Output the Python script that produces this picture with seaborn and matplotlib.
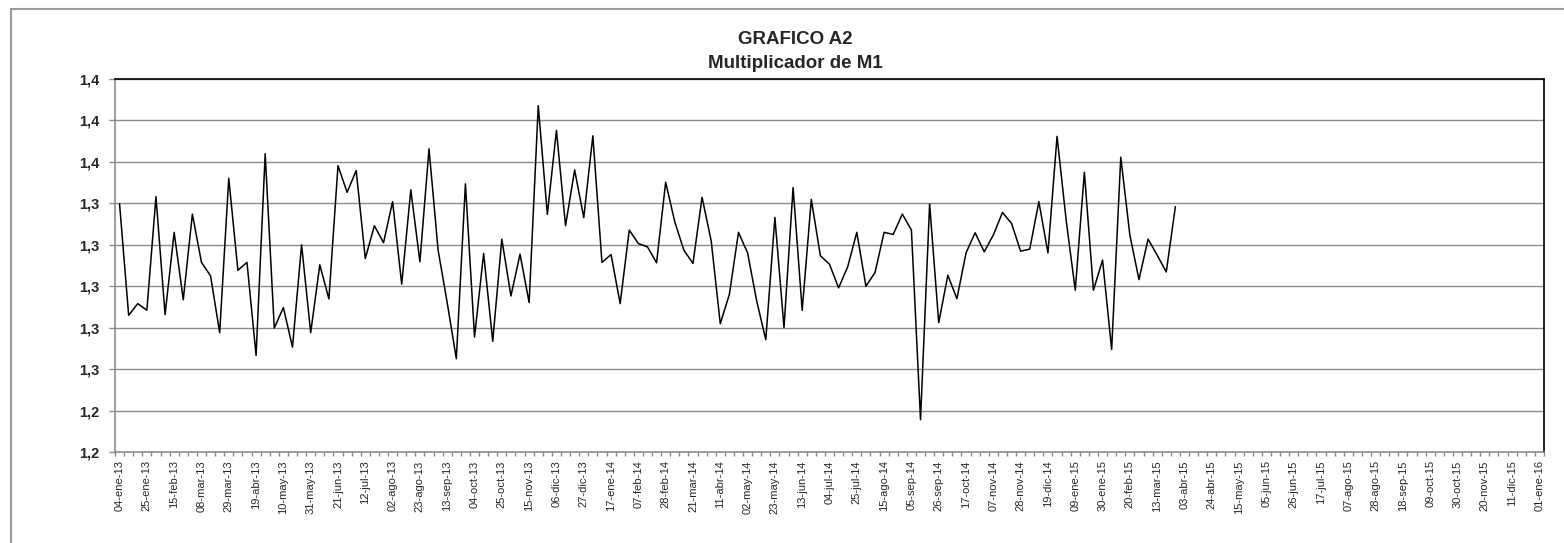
import numpy as np
import pandas as pd
import seaborn as sns
import matplotlib.pyplot as plt
from matplotlib.lines import Line2D

# Multiplicador de M1, datos semanales (viernes) desde 04-ene-13
valores = [
    1.3398, 1.2860, 1.2916, 1.2884, 1.3432, 1.2863, 1.3260, 1.2935, 1.3348, 1.3115,
    1.3050, 1.2776, 1.3521, 1.3077, 1.3115, 1.2666, 1.3639, 1.2798, 1.2897, 1.2706,
    1.3200, 1.2776, 1.3103, 1.2939, 1.3582, 1.3453, 1.3558, 1.3134, 1.3292, 1.3210,
    1.3408, 1.3010, 1.3465, 1.3118, 1.3663, 1.3174, 1.2920, 1.2650, 1.3494, 1.2755,
    1.3158, 1.2734, 1.3227, 1.2953, 1.3155, 1.2921, 1.3871, 1.3347, 1.3752, 1.3292,
    1.3561, 1.3331, 1.3726, 1.3115, 1.3153, 1.2916, 1.3271, 1.3206, 1.3190, 1.3113,
    1.3502, 1.3311, 1.3174, 1.3110, 1.3429, 1.3219, 1.2819, 1.2961, 1.3260, 1.3161,
    1.2929, 1.2742, 1.3332, 1.2800, 1.3476, 1.2884, 1.3419, 1.3147, 1.3106, 1.2992,
    1.3094, 1.3260, 1.3000, 1.3066, 1.3260, 1.3250, 1.3348, 1.3271, 1.2356, 1.3397,
    1.2824, 1.3053, 1.2940, 1.3161, 1.3258, 1.3166, 1.3247, 1.3356, 1.3303, 1.3169,
    1.3179, 1.3408, 1.3161, 1.3723, 1.3319, 1.2981, 1.3550, 1.2981, 1.3126, 1.2695,
    1.3623, 1.3247, 1.3032, 1.3227, 1.3150, 1.3069, 1.3384,
]

# eje de categorias: semanas hasta 01-ene-16
fechas = pd.date_range('2013-01-04', '2016-01-01', freq='7D')
meses = ['ene', 'feb', 'mar', 'abr', 'may', 'jun', 'jul', 'ago', 'sep', 'oct', 'nov', 'dic']
etiquetas_x = [f"{d.day:02d}-{meses[d.month - 1]}-{d.strftime('%y')}" for d in fechas]

y_ticks = [1.22, 1.24, 1.26, 1.28, 1.30, 1.32, 1.34, 1.36, 1.38, 1.40]
y_labels = ['1,2', '1,2', '1,3', '1,3', '1,3', '1,3', '1,3', '1,4', '1,4', '1,4']

df = pd.DataFrame({'pos': np.arange(len(valores)), 'valor': valores})

sns.set_style('white')
plt.rcParams['font.family'] = ['Liberation Sans', 'DejaVu Sans']

fig = plt.figure(figsize=(15.64, 5.43), dpi=100)
ax = fig.add_axes([115 / 1564, 1 - 452 / 543, (1544 - 115) / 1564, (452 - 79) / 543])

sns.lineplot(data=df, x='pos', y='valor', color='black', linewidth=1.1, ax=ax)

ax.set_xlim(-0.5, len(fechas) - 0.5)
ax.set_ylim(1.22, 1.40)

ax.set_yticks(y_ticks)
ax.set_yticklabels(y_labels, fontsize=10.5, fontweight='bold')
ax.yaxis.grid(True, color='#8c8c8c', linewidth=1)
ax.tick_params(axis='y', direction='out', length=4, width=1, color='#8c8c8c', pad=7, left=True)

ax.set_xticks(np.arange(0, len(fechas), 3))
ax.set_xticklabels(etiquetas_x[::3], rotation=90, fontsize=8)
ax.set_xticks(np.arange(-0.5, len(fechas), 1), minor=True)
ax.tick_params(axis='x', which='major', length=0, pad=6, bottom=True)
ax.tick_params(axis='x', which='minor', direction='out', length=3, width=1,
               color='#8c8c8c', bottom=True)

ax.set_xlabel('')
ax.set_ylabel('')

for s in ['left', 'bottom']:
    ax.spines[s].set_color('#8c8c8c')
    ax.spines[s].set_linewidth(1.2)
for s in ['top', 'right']:
    ax.spines[s].set_color('black')
    ax.spines[s].set_linewidth(1.2)

fig.text(795 / 1564, 1 - 40 / 543, 'GRAFICO A2', ha='center', va='center',
         fontsize=13.5, fontweight='bold')
fig.text(795 / 1564, 1 - 64 / 543, 'Multiplicador de M1', ha='center', va='center',
         fontsize=13.5, fontweight='bold')

# borde del area del grafico
fig.add_artist(Line2D([11 / 1564, 1.0], [1 - 9 / 543, 1 - 9 / 543],
                      color='#9a9a9a', linewidth=1.5, transform=fig.transFigure))
fig.add_artist(Line2D([11 / 1564, 11 / 1564], [0, 1 - 9 / 543],
                      color='#9a9a9a', linewidth=1.5, transform=fig.transFigure))

fig.savefig('out.png', dpi=100)
